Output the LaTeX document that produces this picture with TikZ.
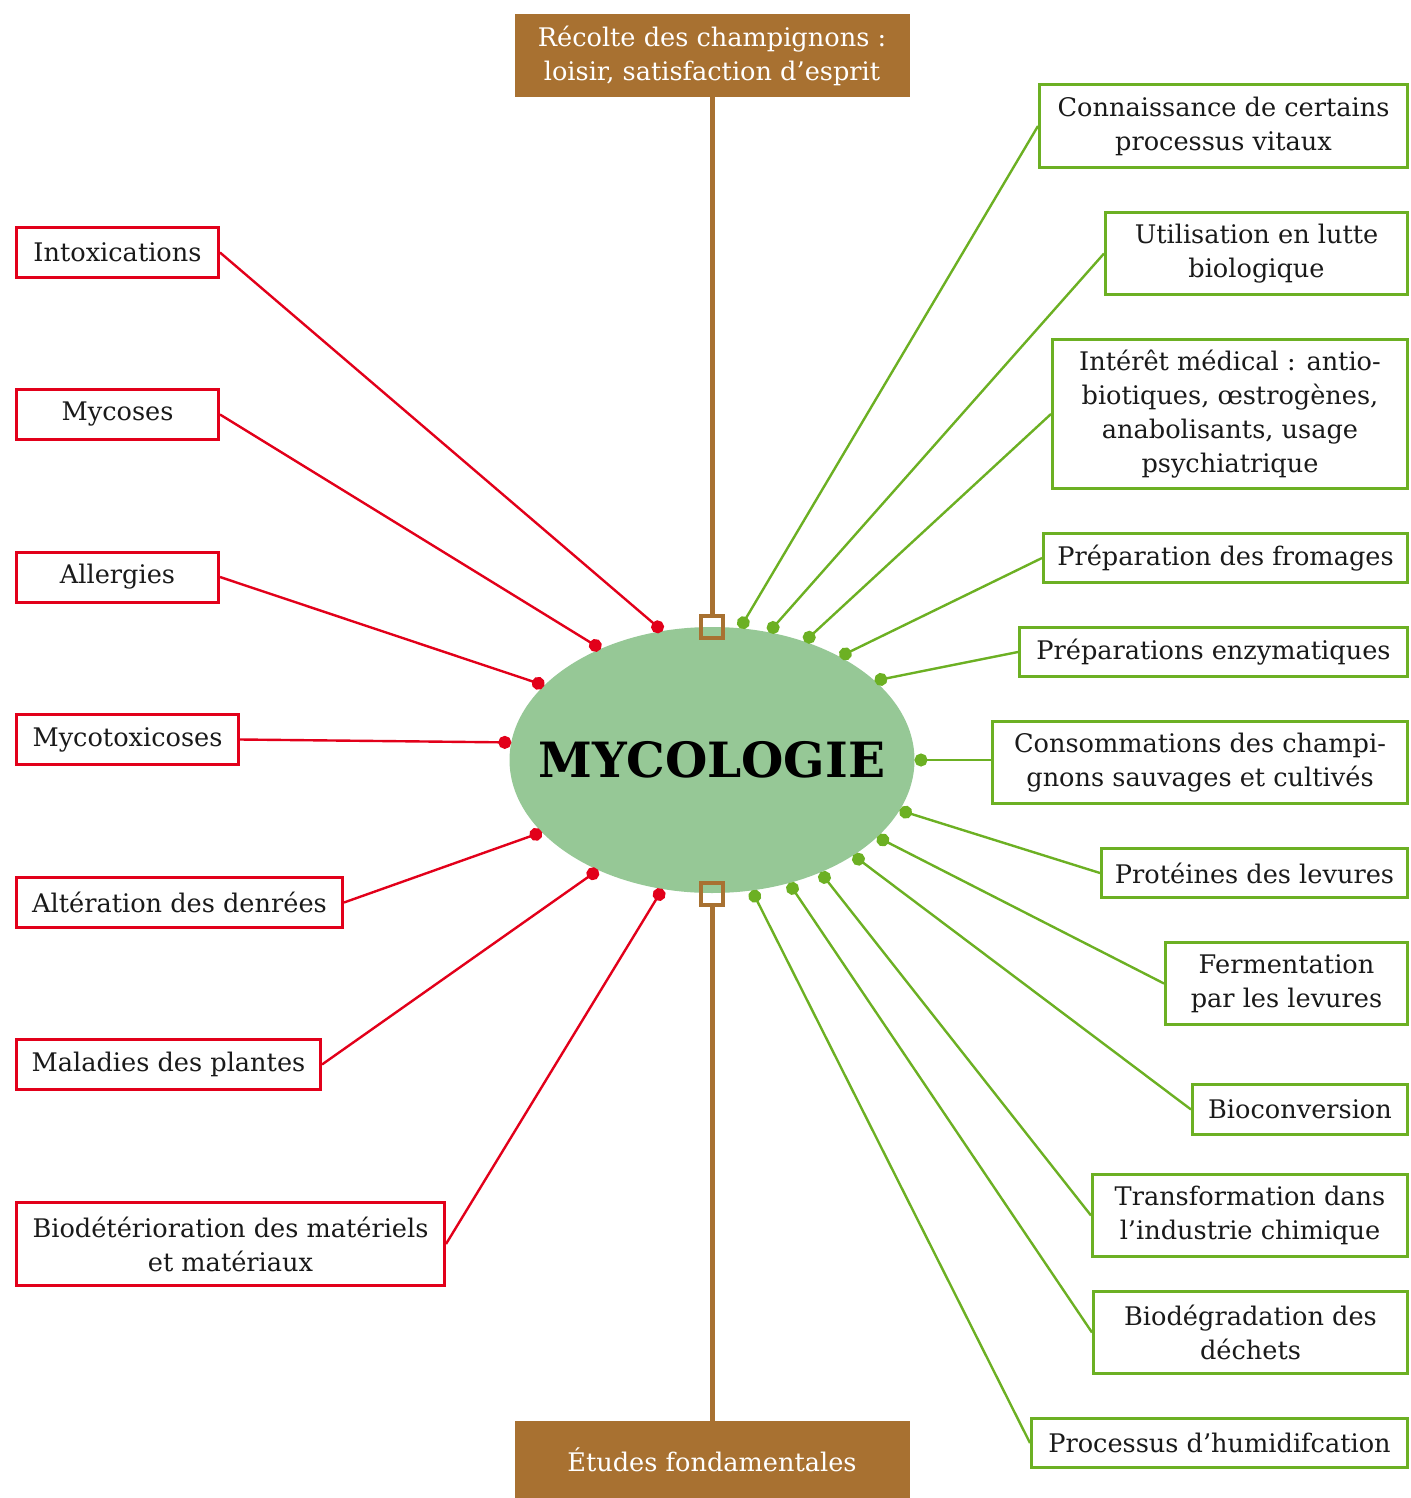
\documentclass[tikz,border=0pt]{standalone}
\usepackage{fontspec}
\setmainfont{DejaVu Serif}
\usetikzlibrary{shapes.geometric,arrows.meta}

\definecolor{myred}{HTML}{E2001A}
\definecolor{mygreen}{HTML}{6CB023}
\definecolor{mybrown}{HTML}{A87131}
\definecolor{ellfill}{HTML}{96C896}
\definecolor{ink}{HTML}{1A1A1A}

\tikzset{
  boxtext/.style={font=\fontsize{12.8}{17}\selectfont, text=ink, align=center, inner sep=0pt},
  redbox/.style={boxtext, draw=myred, line width=1.5pt, fill=white},
  greenbox/.style={boxtext, draw=mygreen, line width=1.5pt, fill=white},
  brownbox/.style={boxtext, fill=mybrown, text=white, minimum width=197.5pt},
  sqbox/.style={draw=mybrown, line width=2pt, minimum size=11pt, inner sep=0pt},
  redline/.style={draw=myred, line width=1.2pt, -{Circle[length=6.5pt]}},
  greenline/.style={draw=mygreen, line width=1.2pt, -{Circle[length=6.5pt]}},
  brownline/.style={draw=mybrown, line width=2.5pt}
}

\begin{document}
\begin{tikzpicture}[x=0.5pt, y=-0.5pt]
    \useasboundingbox (0,0) rectangle (1410,1498);

    \node[ellipse, fill=ellfill, minimum width=202.5pt, minimum height=133pt, inner sep=0pt, outer sep=0pt,
          label={[font=\fontsize{24.3}{30}\bfseries, text=black]center:MYCOLOGIE}] (myco) at (712,760) {};

    \node[brownbox, minimum height=41.5pt] (recolte) at (712,55.5) {Récolte des champignons :\\loisir, satisfaction d’esprit};
    \node[brownbox, minimum height=38.5pt] (etudes) at (712,1459.5) {Études fondamentales};
    \node[sqbox] (sqtop) at (712,627) {};
    \node[sqbox] (sqbot) at (712,894) {};
    \draw[brownline] (recolte.south) -- (sqtop.north);
    \draw[brownline] (sqbot.south) -- (etudes.north);

    % left side
    \node[redbox, minimum width=101pt, minimum height=25pt] (intox) at (117.5,252.5) {Intoxications};
    \node[redbox, minimum width=101pt, minimum height=25pt] (mycoses) at (117.5,414.5) {Mycoses};
    \node[redbox, minimum width=101pt, minimum height=25pt] (allerg) at (117.5,577) {Allergies};
    \node[redbox, minimum width=111pt, minimum height=25pt] (mycotox) at (127.5,739.5) {Mycotoxicoses};
    \node[redbox, minimum width=163pt, minimum height=25pt] (alter) at (179.5,902.5) {Altération des denrées};
    \node[redbox, minimum width=152pt, minimum height=25pt] (malad) at (168.5,1064.5) {Maladies des plantes};
    \node[redbox, minimum width=214pt, minimum height=41.5pt] (biodet) at (230.5,1244) {Biodétérioration des matériels\\et matériaux};

    \draw[redline] (intox.east) -- (myco.111);
    \draw[redline] (mycoses.east) -- (myco.135.5);
    \draw[redline] (allerg.east) -- (myco.156);
    \draw[redline] (mycotox.east) -- (myco.175.3);
    \draw[redline] (alter.east) -- (myco.203.7);
    \draw[redline] (malad.east) -- (myco.224);
    \draw[redline] (biodet.east) -- (myco.249);

    % right side
    \node[greenbox, minimum width=184pt, minimum height=41.5pt] (connais) at (1223.5,126) {Connaissance de certains\\processus vitaux};
    \node[greenbox, minimum width=151pt, minimum height=41pt] (lutte) at (1256.5,253.5) {Utilisation en lutte\\biologique};
    \node[greenbox, minimum width=177.5pt, minimum height=74.5pt] (medic) at (1230,414) {Intérêt médical : antio-\\biotiques, œstrogènes,\\anabolisants, usage\\psychiatrique};
    \node[greenbox, minimum width=182pt, minimum height=24.5pt] (fromag) at (1225.5,558) {Préparation des fromages};
    \node[greenbox, minimum width=194pt, minimum height=24.5pt] (enzym) at (1213.5,652) {Préparations enzymatiques};
    \node[greenbox, minimum width=207.5pt, minimum height=41pt] (conso) at (1200,762.5) {Consommations des champi-\\gnons sauvages et cultivés};
    \node[greenbox, minimum width=153pt, minimum height=24.5pt] (proteines) at (1254.5,873) {Protéines des levures};
    \node[greenbox, minimum width=121pt, minimum height=41pt] (ferment) at (1286.5,983.5) {Fermentation\\par les levures};
    \node[greenbox, minimum width=107.5pt, minimum height=25pt] (biocon) at (1300,1109.5) {Bioconversion};
    \node[greenbox, minimum width=157.5pt, minimum height=41pt] (transf) at (1250,1215.5) {Transformation dans\\l’industrie chimique};
    \node[greenbox, minimum width=157pt, minimum height=41pt] (biodeg) at (1250.5,1332.5) {Biodégradation des\\déchets};
    \node[greenbox, minimum width=188pt, minimum height=24.5pt] (humid) at (1219.5,1443) {Processus d’humidifcation};

    \draw[greenline] (connais.west) -- (myco.78.1);
    \draw[greenline] (lutte.west) -- (myco.66.1);
    \draw[greenline] (medic.west) -- (myco.52.1);
    \draw[greenline] (fromag.west) -- (myco.39.5);
    \draw[greenline] (enzym.west) -- (myco.26.2);
    \draw[greenline] (conso.west |- myco.east) -- (myco.east);
    \draw[greenline] (proteines.west) -- (myco.-15.2);
    \draw[greenline] (ferment.west) -- (myco.-25.5);
    \draw[greenline] (biocon.west) -- (myco.-34.5);
    \draw[greenline] (transf.west) -- (myco.-46.8);
    \draw[greenline] (biodeg.west) -- (myco.-58.6);
    \draw[greenline] (humid.west) -- (myco.-73.2);
\end{tikzpicture}
\end{document}
